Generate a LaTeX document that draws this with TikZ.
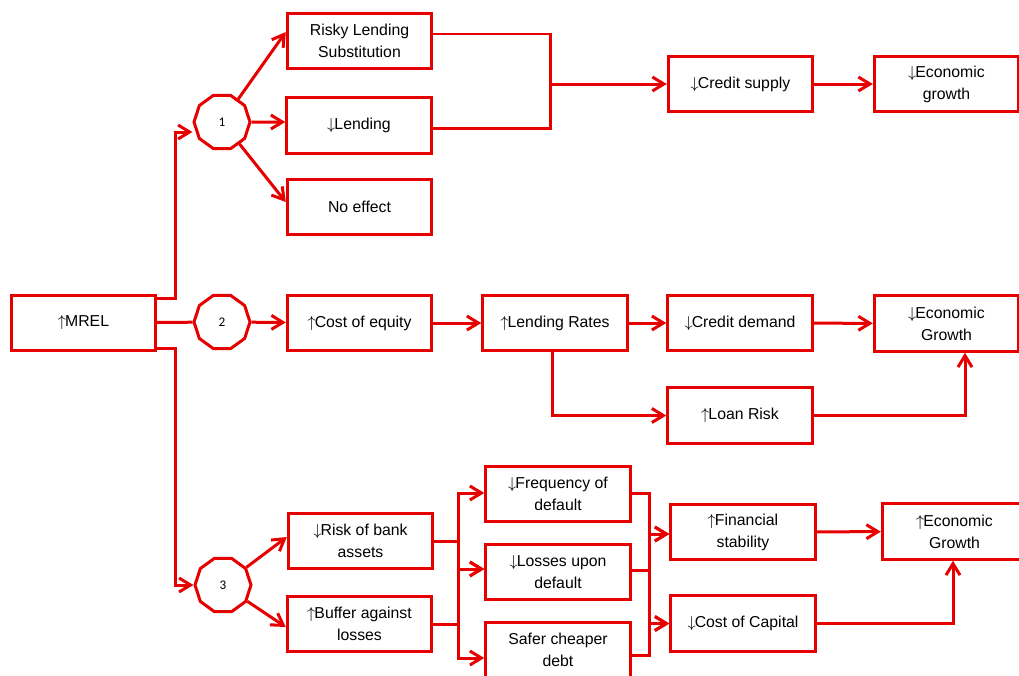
\documentclass[tikz,border=0pt]{standalone}
\usepackage{fontspec}
\setmainfont{Liberation Sans}
\newfontfamily\numfont{Carlito}
\usetikzlibrary{arrows.meta,calc,shapes.geometric,positioning}
\tikzset{>={Straight Barb[length=0.23cm,width=0.28cm]}}
\definecolor{mred}{RGB}{230,0,0}
\newcommand{\upa}{$\uparrow$\kern-0.5pt}
\newcommand{\dna}{$\downarrow$\kern-0.5pt}

\begin{document}
\begin{tikzpicture}[x=0.02cm,y=-0.02cm,
        box/.style={draw=mred, line width=0.06cm, fill=white, minimum width=2.89cm,
            minimum height=1.11cm, align=center, inner sep=1pt,
            font=\fontsize{9}{12.5}\selectfont},
        deca/.style={draw=mred, line width=0.06cm, regular polygon,
            regular polygon sides=10, minimum size=1.12cm, inner sep=0pt,
            font=\numfont\fontsize{7.5}{9}\selectfont},
        link/.style={draw=mred, line width=0.06cm}]

    \useasboundingbox (0,0) rectangle (1019,676);

    % root and the three channels
    \node[box] (mrel) at (83.5,323) {\upa MREL};
    \node[deca] (oct1) at (222,122) {1};
    \node[deca] (oct2) at (222,322) {2};
    \node[deca] (oct3) at (223,585) {3};

    % channel 1
    \node[box] (risky) at (359.5,41) {Risky Lending\\Substitution};
    \node[box] (lending) at (359,125.5) {\dna Lending};
    \node[box] (noeffect) at (359.5,207) {No effect};
    \node[box] (credsup) at (740.5,84) {\dna Credit supply};
    \node[box] (econ1) at (946.5,84) {\dna Economic\\growth};

    % channel 2
    \node[box] (costeq) at (359.5,323) {\upa Cost of equity};
    \node[box] (lendrates) at (555,323) {\upa Lending Rates};
    \node[box] (creddem) at (740,323) {\dna Credit demand};
    \node[box] (loanrisk) at (740,415.5) {\upa Loan Risk};
    \node[box] (econ2) at (946.5,323.5) {\dna Economic\\Growth};

    % channel 3
    \node[box] (riskbank) at (360.5,541) {\dna Risk of bank\\assets};
    \node[box] (buffer) at (359.5,624) {\upa Buffer against\\losses};
    \node[box] (freq) at (558,494) {\dna Frequency of\\default};
    \node[box] (losses) at (558,572) {\dna Losses upon\\default};
    \node[box] (safer) at (558,650) {Safer cheaper\\debt};
    \node[box] (finstab) at (743,532) {\upa Financial\\stability};
    \node[box] (costcap) at (743,623.5) {\dna Cost of Capital};
    \node[box] (econ3) at (954.5,531.5) {\upa Economic\\Growth};

    % from the root
    \draw[link,->] ($(mrel.east)+(0,-25)$) -- ++(18,0) |- ($(oct1.west)+(0,10)$);
    \draw[link] (mrel) -- (oct2);
    \draw[link,->] ($(mrel.east)+(0,25)$) -- ++(18,0) |- (oct3.west);

    % channel 1
    \draw[link,->] (oct1) -- ($(risky.west)+(0,-9)$);
    \draw[link,->] (oct1) -- (oct1 -| lending.west);
    \draw[link,->] (oct1) -- ($(noeffect.west)+(0,-5)$);
    \coordinate (join1) at (550,84);
    \draw[link] ($(risky.east)+(0,-7)$) -| (join1) |- ($(lending.east)+(0,2.5)$);
    \draw[link,->] (join1) -- (credsup);
    \draw[link,->] (credsup) -- (econ1);

    % channel 2
    \draw[link,->] (oct2) -- (costeq);
    \draw[link,->] (costeq) -- (lendrates);
    \draw[link,->] (lendrates) -- (creddem);
    \draw[link,->] (creddem) -- (econ2);
    \draw[link,->] ($(lendrates.south)+(-3,0)$) |- (loanrisk);
    \draw[link,->] (loanrisk) -| ($(econ2.south)+(18.5,0)$);

    % channel 3
    \draw[link,->] (oct3) -- ($(riskbank.west)+(0,-4)$);
    \draw[link,->] (oct3) -- ($(buffer.west)+(0,3)$);
    \draw[link,->] (riskbank.east) -- ++(24,0) |- ($(freq.west)+(0,-1)$);
    \draw[link,->] (riskbank.east) -- ++(24,0) |- ($(losses.west)+(0,-3)$);
    \draw[link,->] (buffer.east) -- ++(25,0) |- ($(losses.west)+(0,-3)$);
    \draw[link,->] (buffer.east) -- ++(25,0) |- ($(safer.west)+(0,8)$);
    \draw[link,->] ($(freq.east)+(0,-1)$) -- ++(18,0) |- ($(finstab.west)+(0,2)$);
    \draw[link,->] ($(losses.east)+(0,-2)$) -- ++(18,0) |- ($(finstab.west)+(0,2)$);
    \draw[link,->] ($(losses.east)+(0,-2)$) -- ++(18,0) |- (costcap);
    \draw[link,->] ($(safer.east)+(0,5)$) -- ++(18,0) |- (costcap);
    \draw[link,->] (finstab) -- (econ3);
    \draw[link,->] (costcap) -| ($(econ3.south)+(-1.5,0)$);
\end{tikzpicture}
\end{document}
